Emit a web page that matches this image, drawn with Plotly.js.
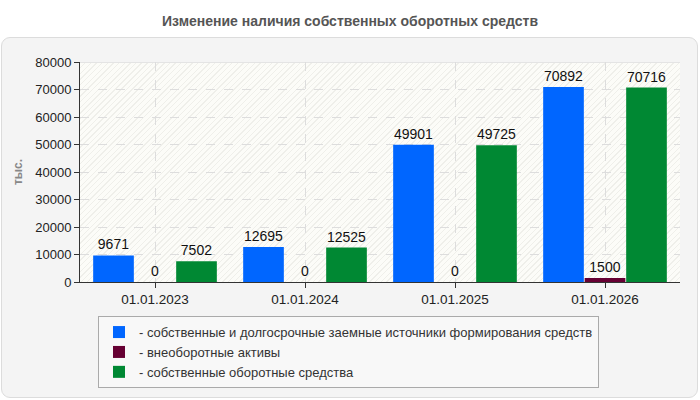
<!DOCTYPE html>
<html>
<head>
<meta charset="utf-8">
<script src="https://cdn.plot.ly/plotly-3.0.1.min.js"></script>
<style>
  html, body { margin: 0; padding: 0; background: #ffffff; }
  #wrap { position: relative; width: 700px; height: 400px; overflow: hidden; }
  #panel { position: absolute; left: 1px; top: 37px; width: 695px; height: 359px;
           border: 1px solid #dcdcdc; border-radius: 9px; background: #f4f4f4; }
  #hatch { position: absolute; left: 80px; top: 62px; width: 600px; height: 220px;
           border-top: 1px solid #e4e4e4; box-sizing: border-box;
           background: repeating-linear-gradient(-45deg, #fcfcf8 0px, #fcfcf8 3px, #efefea 3px, #efefea 4px); }
  #chart { position: absolute; left: 0; top: 0; width: 700px; height: 400px; }
</style>
</head>
<body>
<div id="wrap">
  <div id="panel"></div>
  <div id="hatch"></div>
  <div id="chart"></div>
</div>
<script>
const categories = ["01.01.2023", "01.01.2024", "01.01.2025", "01.01.2026"];
const seriesNames = [
  "- собственные и долгосрочные заемные источники формирования средств",
  "- внеоборотные активы",
  "- собственные оборотные средства"
];
const sourcesValues = [9671, 12695, 49901, 70892];
const fixedAssetsValues = [0, 0, 0, 1500];
const workingCapitalValues = [7502, 12525, 49725, 70716];
const colors = ["#0066ff", "#660033", "#008833"];
const yTicks = [0, 10000, 20000, 30000, 40000, 50000, 60000, 70000, 80000];

const font = "Liberation Sans, Arial, sans-serif";
const allValues = [sourcesValues, fixedAssetsValues, workingCapitalValues];

const traces = allValues.map((vals, i) => ({
  type: "bar",
  x: categories,
  y: vals,
  name: seriesNames[i],
  marker: { color: colors[i] },
  text: vals.map(v => String(v)),
  textposition: "outside",
  textfont: { family: font, size: 14, color: "#111" },
  cliponaxis: false,
  hoverinfo: "x+y"
}));

const layout = {
  width: 700,
  height: 400,
  margin: { l: 80, r: 20, t: 62, b: 118 },
  paper_bgcolor: "rgba(0,0,0,0)",
  plot_bgcolor: "rgba(0,0,0,0)",
  font: { family: font, size: 13, color: "#222" },
  title: {
    text: "Изменение наличия собственных оборотных средств",
    font: { family: font, size: 14, color: "#555", weight: "bold" },
    x: 0.5, xanchor: "center",
    y: 0.948, yanchor: "middle", yref: "container"
  },
  barmode: "group",
  bargap: 0.17,
  bargroupgap: 0.02,
  xaxis: {
    type: "category",
    showline: true, linecolor: "#333", linewidth: 1,
    ticks: "outside", ticklen: 5, tickcolor: "#333",
    showgrid: true, gridcolor: "#dddddd", griddash: "dash",
    tickfont: { family: font, size: 13.5, color: "#222" },
    zeroline: false
  },
  yaxis: {
    range: [0, 80000],
    tickvals: yTicks,
    ticktext: yTicks.map(v => String(v)),
    showline: true, linecolor: "#333", linewidth: 1,
    ticks: "outside", ticklen: 5, tickcolor: "#333",
    showgrid: true, gridcolor: "#dddddd", griddash: "dash",
    zeroline: false,
    tickfont: { family: font, size: 13, color: "#222" },
    title: { text: "тыс.", font: { family: font, size: 12, color: "#888", weight: "bold" }, standoff: 10 }
  },
  showlegend: true,
  legend: {
    x: 0.03, xanchor: "left",
    y: -0.155, yanchor: "top",
    bgcolor: "#f8f8f8",
    bordercolor: "#aaaaaa",
    borderwidth: 1,
    font: { family: font, size: 13, color: "#333" },
    traceorder: "normal"
  }
};

Plotly.newPlot("chart", traces, layout, { displayModeBar: false, staticPlot: true });
</script>
</body>
</html>
